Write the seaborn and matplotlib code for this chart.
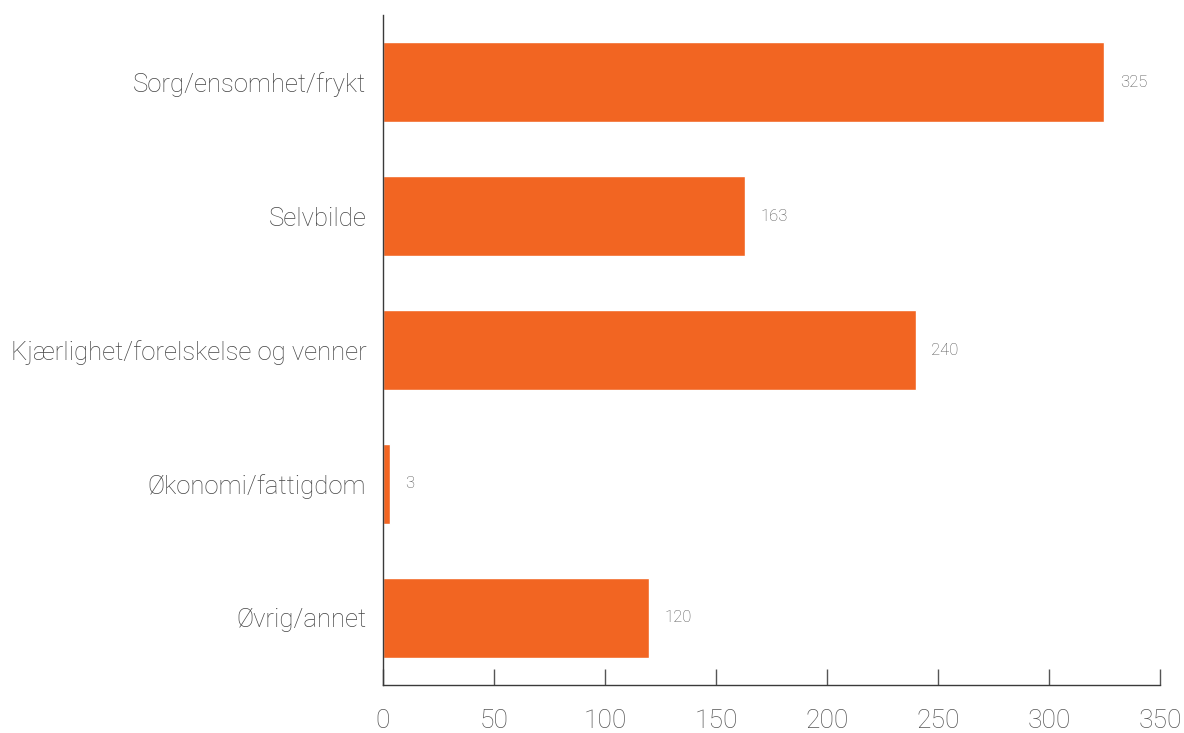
import pandas as pd
import seaborn as sns
import matplotlib.pyplot as plt

sns.set_style('white')
plt.rcParams['font.family'] = ['Roboto', 'DejaVu Sans']

kategorier = ['Sorg/ensomhet/frykt', 'Selvbilde', 'Kjærlighet/forelskelse og venner',
              'Økonomi/fattigdom', 'Øvrig/annet']
antall = [325, 163, 240, 3, 120]
xticks = [0, 50, 100, 150, 200, 250, 300, 350]

df = pd.DataFrame({'kategori': kategorier, 'antall': antall})

fig = plt.figure(figsize=(11.84, 7.33), dpi=100)
ax = fig.add_axes([0.3235, 0.0655, 0.6562, 0.914])

sns.barplot(data=df, x='antall', y='kategori', color='#F26522', saturation=1,
            width=0.59, ax=ax)

# verdier til høyre for søylene
for i, v in enumerate(antall):
    ax.text(v + 7, i, str(v), va='center', ha='left', fontsize=12,
            color='#555555', fontweight='light')

ax.set_xlim(0, 350)
ax.set_xticks(xticks)
ax.set_xlabel('')
ax.set_ylabel('')
sns.despine(ax=ax, top=True, right=True)
for s in ['left', 'bottom']:
    ax.spines[s].set_color('#3a3a3a')
    ax.spines[s].set_linewidth(1.0)

ax.tick_params(axis='x', bottom=True, direction='in', length=11.5, width=1,
               color='#555555', pad=17, labelsize=19, labelcolor='#555555')
ax.tick_params(axis='y', left=False, length=0, pad=12, labelsize=18.5,
               labelcolor='#444444')
for lab in ax.get_xticklabels() + ax.get_yticklabels():
    lab.set_fontweight('light')

fig.savefig('out.png', dpi=100)
